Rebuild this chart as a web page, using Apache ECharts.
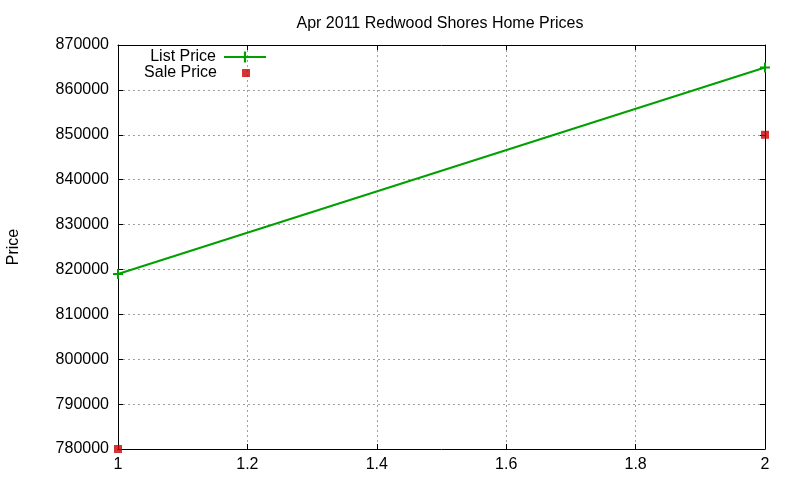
<!DOCTYPE html>
<html>
<head>
<meta charset="utf-8">
<script src="https://cdn.jsdelivr.net/npm/echarts@6/dist/echarts.min.js"></script>
<style>
  html, body { margin: 0; padding: 0; background: #fff; }
  #main { width: 800px; height: 480px; }
</style>
</head>
<body>
<div id="main"></div>
<script>
// values
var listPrice = [[1, 819000], [2, 865000]];
var salePrice = [[1, 780000], [2, 850000]];
var seriesNames = ['List Price', 'Sale Price'];

var font = 'Liberation Sans, Arial, sans-serif';
var plusPath = 'path://M4,0H6V4H10V6H6V10H4V6H0V4H4Z';

var myChart = echarts.init(document.getElementById('main'));

var xBase = {
    type: 'value',
    min: 1,
    max: 2,
    interval: 0.2,
    axisLine: { show: true, onZero: false, lineStyle: { color: '#000', width: 1 } },
    axisTick: { show: true, inside: true, length: 5, lineStyle: { color: '#000' } }
};
var yBase = {
    type: 'value',
    min: 780000,
    max: 870000,
    interval: 10000,
    axisLine: { show: true, onZero: false, lineStyle: { color: '#000', width: 1 } },
    axisTick: { show: true, inside: true, length: 5, lineStyle: { color: '#000' } }
};

var option = {
    backgroundColor: '#fff',
    animation: false,
    title: {
        text: 'Apr 2011 Redwood Shores Home Prices',
        left: 435,
        textAlign: 'center',
        top: 11,
        textStyle: { fontFamily: font, fontSize: 16, fontWeight: 'normal', color: '#000' }
    },
    legend: [{
        data: [seriesNames[0]],
        orient: 'vertical',
        align: 'right',
        right: 533,
        top: 49,
        padding: 0,
        itemWidth: 42,
        itemHeight: 14,
        textStyle: { fontFamily: font, fontSize: 16, color: '#000', padding: [0, 3, 0, 0] }
    }, {
        data: [seriesNames[1]],
        orient: 'vertical',
        align: 'right',
        right: 550,
        top: 65,
        padding: 0,
        itemWidth: 8,
        itemHeight: 8,
        textStyle: { fontFamily: font, fontSize: 16, color: '#000', padding: [0, 20, 0, 0] }
    }],
    grid: { left: 118, right: 35, top: 45, bottom: 31, outerBoundsMode: 'none' },
    xAxis: [
        Object.assign({}, xBase, {
            position: 'bottom',
            axisLabel: { color: '#000', fontFamily: font, fontSize: 16, margin: 8 },
            splitLine: { show: true, lineStyle: { color: '#a0a0a0', type: [2, 3], width: 1 } }
        }),
        Object.assign({}, xBase, {
            position: 'top',
            axisLabel: { show: false },
            splitLine: { show: false }
        })
    ],
    yAxis: [
        Object.assign({}, yBase, {
            position: 'left',
            name: 'Price',
            nameLocation: 'middle',
            nameGap: 96,
            nameRotate: 90,
            nameTextStyle: { color: '#000', fontFamily: font, fontSize: 16 },
            axisLabel: {
                color: '#000', fontFamily: font, fontSize: 16, margin: 9,
                formatter: function (v) { return String(v); }
            },
            splitLine: { show: true, lineStyle: { color: '#a0a0a0', type: [2, 3], width: 1 } }
        }),
        Object.assign({}, yBase, {
            position: 'right',
            axisLabel: { show: false },
            splitLine: { show: false }
        })
    ],
    series: [{
        name: seriesNames[0],
        type: 'line',
        data: listPrice,
        symbol: plusPath,
        symbolSize: 10,
        showAllSymbol: true,
        clip: false,
        lineStyle: { color: '#00a000', width: 2 },
        itemStyle: { color: '#00a000' }
    }, {
        name: seriesNames[1],
        type: 'scatter',
        data: salePrice,
        symbol: 'rect',
        symbolSize: 8,
        clip: false,
        itemStyle: { color: '#cc0000' }
    }]
};

myChart.setOption(option);
</script>
</body>
</html>
